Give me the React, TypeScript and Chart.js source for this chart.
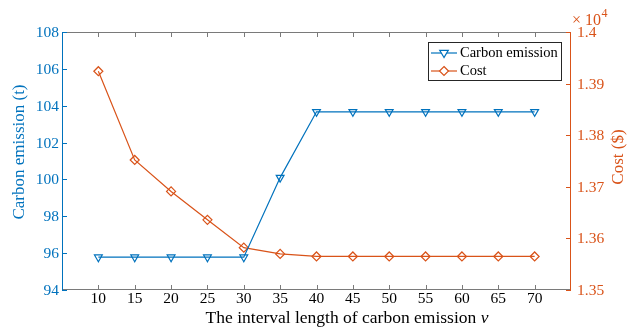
import React, { useEffect, useRef } from "react";
import { Chart, registerables } from "chart.js";

Chart.register(...registerables);

const xValues = [10, 15, 20, 25, 30, 35, 40, 45, 50, 55, 60, 65, 70];
const carbonEmission = [95.78, 95.78, 95.78, 95.78, 95.78, 100.1, 103.67, 103.67, 103.67, 103.67, 103.67, 103.67, 103.67];
const cost = [13924, 13752, 13691, 13636, 13582, 13570, 13565, 13565, 13565, 13565, 13565, 13565, 13565];
const xTicks = [10, 15, 20, 25, 30, 35, 40, 45, 50, 55, 60, 65, 70];
const leftTicks = [94, 96, 98, 100, 102, 104, 106, 108];
const rightTicks = [13500, 13600, 13700, 13800, 13900, 14000];
const rightTickLabels = ["1.35", "1.36", "1.37", "1.38", "1.39", "1.4"];

const BLUE = "#0072BD";
const ORANGE = "#D95319";
const DARK = "#262626";
const FONT = "Liberation Serif";

Chart.defaults.font.family = FONT;

const framePlugin = {
  id: "frame",
  beforeDatasetsDraw(chart: any) {
    const { ctx, chartArea, scales } = chart;
    const { left, right, top, bottom } = chartArea;
    ctx.save();
    ctx.lineWidth = 1;
    ctx.strokeStyle = "#7a7a7a";
    ctx.beginPath();
    ctx.moveTo(left, top + 0.5);
    ctx.lineTo(right, top + 0.5);
    ctx.moveTo(left, bottom - 0.5);
    ctx.lineTo(right, bottom - 0.5);
    ctx.stroke();
    ctx.beginPath();
    for (const t of xTicks) {
      const x = Math.round(scales.x.getPixelForValue(t)) + 0.5;
      ctx.moveTo(x, bottom);
      ctx.lineTo(x, bottom - 5);
      ctx.moveTo(x, top);
      ctx.lineTo(x, top + 5);
    }
    ctx.stroke();
    ctx.strokeStyle = BLUE;
    ctx.beginPath();
    ctx.moveTo(left + 0.5, top);
    ctx.lineTo(left + 0.5, bottom);
    for (const t of leftTicks) {
      const y = Math.round(scales.y.getPixelForValue(t)) + 0.5;
      ctx.moveTo(left, y);
      ctx.lineTo(left + 5, y);
    }
    ctx.stroke();
    ctx.strokeStyle = ORANGE;
    ctx.beginPath();
    ctx.moveTo(right - 0.5, top);
    ctx.lineTo(right - 0.5, bottom);
    for (const t of rightTicks) {
      const y = Math.round(scales.y1.getPixelForValue(t)) + 0.5;
      ctx.moveTo(right, y);
      ctx.lineTo(right - 5, y);
    }
    ctx.stroke();

    // tick labels
    ctx.font = `15.5px "${FONT}"`;
    ctx.textBaseline = "alphabetic";
    ctx.fillStyle = "#000";
    ctx.textAlign = "center";
    for (const t of xTicks) {
      ctx.fillText(String(t), scales.x.getPixelForValue(t), bottom + 12.5);
    }
    ctx.fillStyle = BLUE;
    ctx.textAlign = "right";
    for (const t of leftTicks) {
      ctx.fillText(String(t), left - 3, scales.y.getPixelForValue(t) + 5);
    }
    ctx.fillStyle = ORANGE;
    ctx.textAlign = "left";
    rightTicks.forEach((t, i) => {
      ctx.fillText(rightTickLabels[i], right + 6, scales.y1.getPixelForValue(t) + 5);
    });
    ctx.restore();
  },
  afterDraw(chart: any) {
    const { ctx } = chart;
    ctx.save();
    ctx.textAlign = "center";
    ctx.textBaseline = "middle";
    ctx.fillStyle = BLUE;
    ctx.font = `17px "${FONT}"`;
    ctx.save();
    ctx.translate(20, 152);
    ctx.rotate(-Math.PI / 2);
    ctx.fillText("Carbon emission (t)", 0, 0);
    ctx.restore();
    ctx.fillStyle = ORANGE;
    ctx.save();
    ctx.translate(619, 157);
    ctx.rotate(-Math.PI / 2);
    ctx.fillText("Cost ($)", 0, 0);
    ctx.restore();
    // x title
    ctx.fillStyle = "#000";
    const main = "The interval length of carbon emission ";
    ctx.font = `17.5px "${FONT}"`;
    const w1 = ctx.measureText(main).width;
    ctx.font = `italic 17.5px "${FONT}"`;
    const w2 = ctx.measureText("v").width;
    const cx = 347;
    const sx = cx - (w1 + w2) / 2;
    ctx.textAlign = "left";
    ctx.font = `17.5px "${FONT}"`;
    ctx.fillText(main, sx, 318);
    ctx.font = `italic 17.5px "${FONT}"`;
    ctx.fillText("v", sx + w1, 318);
    // x10^4
    ctx.fillStyle = ORANGE;
    ctx.textBaseline = "alphabetic";
    ctx.font = `16px "${FONT}"`;
    ctx.fillText("\u00d7 10", 572, 25);
    const w3 = ctx.measureText("\u00d7 10").width;
    ctx.font = `12px "${FONT}"`;
    ctx.fillText("4", 572 + w3 + 0.5, 17);

    // legend
    const lx = 428, ly = 42, lw = 133, lh = 38;
    ctx.fillStyle = "#fff";
    ctx.fillRect(lx, ly, lw, lh);
    ctx.strokeStyle = DARK;
    ctx.lineWidth = 1;
    ctx.strokeRect(lx + 0.5, ly + 0.5, lw, lh);
    const rows = [
      { label: "Carbon emission", color: BLUE, style: "triangle", y: 53 },
      { label: "Cost", color: ORANGE, style: "rectRot", y: 71 },
    ];
    for (const r of rows) {
      ctx.strokeStyle = r.color;
      ctx.lineWidth = 1.2;
      ctx.beginPath();
      ctx.moveTo(431, r.y);
      ctx.lineTo(457, r.y);
      ctx.stroke();
      drawMarker(ctx, r.style, 444, r.y, r.color);
      ctx.fillStyle = "#000";
      ctx.font = `14.5px "${FONT}"`;
      ctx.textAlign = "left";
      ctx.textBaseline = "middle";
      ctx.fillText(r.label, 460, r.y + 0.5);
    }
    ctx.restore();
  },
};

function drawMarker(ctx: CanvasRenderingContext2D, style: string, x: number, y: number, color: string) {
  const r = 4.5;
  ctx.save();
  ctx.strokeStyle = color;
  ctx.lineWidth = 1.2;
  ctx.fillStyle = "#fff";
  ctx.beginPath();
  if (style === "triangle") {
    ctx.moveTo(x, y + r);
    ctx.lineTo(x - r * 0.95, y - r * 0.6);
    ctx.lineTo(x + r * 0.95, y - r * 0.6);
  } else {
    ctx.moveTo(x, y - r);
    ctx.lineTo(x + r, y);
    ctx.lineTo(x, y + r);
    ctx.lineTo(x - r, y);
  }
  ctx.closePath();
  ctx.fill();
  ctx.stroke();
  ctx.restore();
}

export default function App() {
  const ref = useRef<HTMLCanvasElement>(null);
  useEffect(() => {
    document.body.style.margin = "0";
    const chart = new Chart(ref.current as HTMLCanvasElement, {
      type: "line",
      data: {
        datasets: [
          {
            label: "Carbon emission",
            data: xValues.map((x, i) => ({ x, y: carbonEmission[i] })),
            borderColor: BLUE,
            backgroundColor: "rgba(0,0,0,0)",
            borderWidth: 1.2,
            pointStyle: "triangle",
            rotation: 180,
            pointRadius: 4.5,
            pointBorderWidth: 1.2,
            pointBorderColor: BLUE,
            pointBackgroundColor: "rgba(0,0,0,0)",
            yAxisID: "y",
            tension: 0,
          },
          {
            label: "Cost",
            data: xValues.map((x, i) => ({ x, y: cost[i] })),
            borderColor: ORANGE,
            backgroundColor: "rgba(0,0,0,0)",
            borderWidth: 1.2,
            pointStyle: "rectRot",
            pointRadius: 4.5,
            pointBorderWidth: 1.2,
            pointBorderColor: ORANGE,
            pointBackgroundColor: "rgba(0,0,0,0)",
            yAxisID: "y1",
            tension: 0,
          },
        ],
      },
      options: {
        animation: false,
        responsive: true,
        maintainAspectRatio: false,
        layout: { padding: { top: 32, left: 0, right: 0, bottom: 0 } },
        plugins: { legend: { display: false }, tooltip: { enabled: false } },
        scales: {
          x: {
            type: "linear",
            min: 5,
            max: 75,
            afterBuildTicks: (s: any) => {
              s.ticks = xTicks.map((v) => ({ value: v }));
            },
            afterFit: (s: any) => {
              s.height = 43;
            },
            grid: { display: false, drawTicks: false },
            border: { display: false },
            ticks: { display: false },
          },
          y: {
            type: "linear",
            position: "left",
            min: 94,
            max: 108,
            afterBuildTicks: (s: any) => {
              s.ticks = leftTicks.map((v) => ({ value: v }));
            },
            afterFit: (s: any) => {
              s.width = 62;
            },
            grid: { display: false, drawTicks: false },
            border: { display: false },
            ticks: { display: false },
          },
          y1: {
            type: "linear",
            position: "right",
            min: 13500,
            max: 14000,
            afterBuildTicks: (s: any) => {
              s.ticks = rightTicks.map((v) => ({ value: v }));
            },
            afterFit: (s: any) => {
              s.width = 57;
            },
            grid: { display: false, drawTicks: false },
            border: { display: false },
            ticks: { display: false },
          },
        },
      },
      plugins: [framePlugin],
    } as any);
    return () => chart.destroy();
  }, []);
  return (
    <div style={{ position: "fixed", left: 0, top: 0, width: 628, height: 333, background: "#fff" }}>
      <canvas ref={ref} />
    </div>
  );
}
